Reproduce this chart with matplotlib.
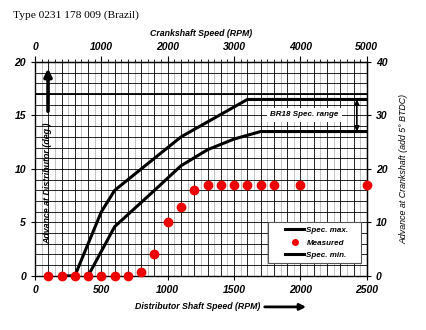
import numpy as np
import matplotlib.pyplot as plt
from matplotlib.lines import Line2D
from matplotlib.patches import FancyArrowPatch, Rectangle

# spec curves (distributor rpm, distributor degrees)
max_rpm = [200, 300, 500, 600, 1100, 1600, 2500]
max_deg = [0, 0, 6, 8, 13, 16.5, 16.5]
min_rpm = [400, 600, 900, 1100, 1300, 1500, 1700, 2500]
min_deg = [0, 4.6, 8.0, 10.3, 11.8, 12.8, 13.5, 13.5]

# measured advance
meas_rpm = [100, 200, 300, 400, 500, 600, 700, 800, 900, 1000, 1100, 1200,
            1300, 1400, 1500, 1600, 1700, 1800, 2000, 2500]
meas_deg = [0, 0, 0, 0, 0, 0, 0, 0.4, 2, 5, 6.4, 8, 8.5, 8.5, 8.5, 8.5, 8.5,
            8.5, 8.5, 8.5]

dist_ticks = [0, 500, 1000, 1500, 2000, 2500]
crank_ticks = [0, 1000, 2000, 3000, 4000, 5000]
deg_ticks = [0, 5, 10, 15, 20]
crank_deg_ticks = [0, 10, 20, 30, 40]

lbl = dict(family='Liberation Sans', weight='bold', style='italic')


def arrow(p0, p1, style, lw, scale, trans):
    a = FancyArrowPatch(p0, p1, arrowstyle=style, color='black', lw=lw,
                        mutation_scale=scale, shrinkA=0, shrinkB=0,
                        transform=trans, zorder=4)
    return a


fig = plt.figure(figsize=(4.27, 3.3), dpi=100)
ax = fig.add_axes([0.082, 0.164, 0.777, 0.648])
ax.set_xlim(0, 2500)
ax.set_ylim(0, 20)

# grid: black every 100 rpm, grey in between, black every degree
for x in np.arange(50, 2500, 50):
    c = 'black' if x % 100 == 0 else '#b8b8b8'
    ax.axvline(x, color=c, lw=0.6, zorder=1)
for y in np.arange(1, 20, 1):
    ax.axhline(y, color='black', lw=0.6, zorder=1)
ax.axhline(17, color='black', lw=1.3, zorder=1)

ax.plot(max_rpm, max_deg, color='black', lw=2.2, zorder=3)
ax.plot(min_rpm, min_deg, color='black', lw=2.2, zorder=3)
ax.plot(meas_rpm, meas_deg, 'o', color='#ee0000', ms=6, clip_on=False, zorder=5)

# spec range marker
ax.add_patch(arrow((2425, 16.5), (2425, 13.5), '<|-|>', 1.2, 7, ax.transData))
ax.text(2030, 15.05, 'BR18 Spec. range', fontsize=5.8, ha='center', va='center',
        bbox=dict(facecolor='white', edgecolor='none', pad=2.5), zorder=4, **lbl)

# axis label inside the plot with its arrow
ax.text(98, 8.7, 'Advance at Distributor (deg.)', rotation=90, fontsize=6.4,
        ha='center', va='center', zorder=4, **lbl)
ax.add_patch(arrow((98, 15.4), (98, 19.4), '-|>', 2.6, 11, ax.transData))

ax.set_xticks(dist_ticks)
ax.set_yticks(deg_ticks)
ax.tick_params(labelsize=7.5, length=3, width=0.8)
for t in ax.get_xticklabels() + ax.get_yticklabels():
    t.set(**lbl)

for s in ax.spines.values():
    s.set_linewidth(1.0)

# crankshaft scales
top = ax.secondary_xaxis('top', functions=(lambda x: 2 * x, lambda x: x / 2))
top.set_xticks(crank_ticks)
top.set_xticks(np.arange(0, 5001, 100), minor=True)
top.tick_params(labelsize=7.5, length=4, width=0.8)
top.tick_params(which='minor', length=2.5, width=0.6)
for t in top.get_xticklabels():
    t.set(**lbl)

right = ax.secondary_yaxis('right', functions=(lambda y: 2 * y, lambda y: y / 2))
right.set_yticks(crank_deg_ticks)
right.tick_params(labelsize=7.5, length=3, width=0.8)
for t in right.get_yticklabels():
    t.set(**lbl)
right.set_ylabel('Advance at Crankshaft (add 5° BTDC)', fontsize=6.4,
                 family='Liberation Sans', style='italic', labelpad=9)

# legend box
ax.add_patch(Rectangle((0.702, 0.061), 0.28, 0.191, transform=ax.transAxes,
                       facecolor='white', edgecolor='#555555', lw=0.8,
                       zorder=6))
leg = ax.legend(handles=[Line2D([], [], color='black', lw=2.2),
                         Line2D([], [], ls='', marker='o', color='#ee0000', ms=4),
                         Line2D([], [], color='black', lw=2.2)],
                labels=['Spec. max.', 'Measured', 'Spec. min.'],
                loc='center', bbox_to_anchor=(0.85, 0.154),
                fontsize=5.8, frameon=False, handlelength=2.3,
                labelspacing=0.6, handletextpad=0.3, borderpad=0,
                borderaxespad=0)
for t in leg.get_texts():
    t.set(**lbl)
leg.set_zorder(7)

fig.text(0.03, 0.955, 'Type 0231 178 009 (Brazil)', fontsize=8.2,
         family='Liberation Serif', ha='left', va='center')
fig.text(0.47, 0.9, 'Crankshaft Speed (RPM)', fontsize=6.3, ha='center',
         va='center', **lbl)
fig.text(0.463, 0.07, 'Distributor Shaft Speed (RPM)', fontsize=6.3,
         ha='center', va='center', **lbl)
fig.add_artist(arrow((0.62, 0.07), (0.717, 0.07), '-|>', 2.0, 9,
                     fig.transFigure))

fig.savefig('out.png', dpi=100)
